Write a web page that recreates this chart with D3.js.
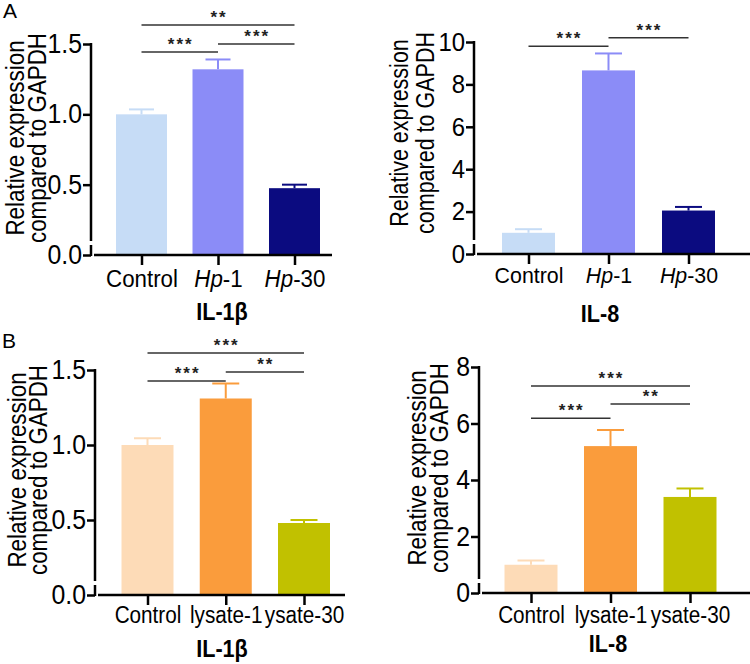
<!DOCTYPE html>
<html>
<head>
<meta charset="utf-8">
<script src="https://cdn.jsdelivr.net/npm/d3@7"></script>
<style>
  body { margin: 0; background: #fff; }
  svg { display: block; font-family: "Liberation Sans", Arial, sans-serif; }
</style>
</head>
<body>
<svg id="chart" width="750" height="664"></svg>
<script>
// categories
var groupsA = ['Control', 'Hp-1', 'Hp-30'];
var groupsB = ['Control', 'lysate-1', 'ysate-30'];
var colorsA = ['#c6dcf6', '#8b8cf7', '#0b0b80'];
var colorsB = ['#fddbb7', '#fa9c3c', '#c1c100'];

// means and SD
var il1bA = [1.0, 1.32, 0.475];
var il1bAErr = [0.035, 0.07, 0.025];
var il8A = [1.0, 8.66, 2.05];
var il8AErr = [0.17, 0.8, 0.17];
var il1bB = [1.0, 1.31, 0.48];
var il1bBErr = [0.045, 0.1, 0.02];
var il8B = [1.0, 5.2, 3.4];
var il8BErr = [0.15, 0.57, 0.3];

// tick labels
var ticksIl1b = [0, 0.5, 1.0, 1.5];
var ticksIl8A = [0, 2, 4, 6, 8, 10];
var ticksIl8B = [0, 2, 4, 6, 8];

// significance: [from, to, height (data units), label]
var sigIl1bA = [[0, 2, 1.635, '**'], [0, 1, 1.443, '***'], [1, 2, 1.5, '***']];
var sigIl8A = [[0, 1, 9.8, '***'], [1, 2, 10.2, '***']];
var sigIl1bB = [[0, 2, 1.613, '***'], [0, 1, 1.427, '***'], [1, 2, 1.487, '**']];
var sigIl8B = [[0, 2, 7.33, '***'], [0, 1, 6.19, '***'], [1, 2, 6.69, '**']];

var svg = d3.select('#chart');

// squeeze text horizontally (the figure font is a bit narrow)
function condense(sel, k) {
  sel.each(function () {
    var w = this.getComputedTextLength();
    d3.select(this).attr('textLength', w * k).attr('lengthAdjust', 'spacingAndGlyphs');
  });
}

function panel(opt) {
  var g = svg.append('g');

  var y = d3.scaleLinear().domain([0, opt.max]).range([opt.y0, opt.yTop]);
  var x = d3.scalePoint().domain(opt.groups).range([opt.c0, opt.c1]);

  var rows = opt.values.map(function (v, i) {
    return { name: opt.groups[i], value: v, err: opt.errs[i], color: opt.colors[i] };
  });

  // bars
  g.selectAll('rect.bar')
    .data(rows)
    .join('rect')
    .attr('class', 'bar')
    .attr('x', function (d) { return x(d.name) - opt.barW / 2; })
    .attr('y', function (d) { return y(d.value); })
    .attr('width', opt.barW)
    .attr('height', function (d) { return y(0) - y(d.value); })
    .attr('fill', function (d) { return d.color; });

  // error bars (upper only)
  var eb = g.selectAll('g.err')
    .data(rows)
    .join('g')
    .attr('class', 'err')
    .attr('stroke', function (d) { return d.color; })
    .attr('stroke-width', 2);

  eb.append('line')
    .attr('x1', function (d) { return x(d.name); })
    .attr('x2', function (d) { return x(d.name); })
    .attr('y1', function (d) { return y(d.value); })
    .attr('y2', function (d) { return y(d.value + d.err); });

  eb.append('line')
    .attr('x1', function (d) { return x(d.name) - opt.capW / 2; })
    .attr('x2', function (d) { return x(d.name) + opt.capW / 2; })
    .attr('y1', function (d) { return y(d.value + d.err); })
    .attr('y2', function (d) { return y(d.value + d.err); });

  // y axis
  var ya = g.append('g')
    .attr('transform', 'translate(' + opt.ax + ',0)')
    .call(d3.axisLeft(y).tickValues(opt.ticks).tickFormat(opt.fmt).tickSize(8).tickPadding(1));
  ya.select('.domain').remove();
  ya.selectAll('.tick line').attr('stroke', '#000').attr('stroke-width', 2.5);
  ya.selectAll('.tick text')
    .attr('font-size', opt.tickFont)
    .attr('font-family', 'Liberation Sans, Arial, sans-serif')
    .attr('fill', '#000')
    .call(condense, 0.92);

  // broken y axis line near zero
  g.append('line')
    .attr('x1', opt.ax).attr('x2', opt.ax)
    .attr('y1', y(opt.max) - 1).attr('y2', opt.y0 - 14)
    .attr('stroke', '#000').attr('stroke-width', 2.5);
  g.append('line')
    .attr('x1', opt.ax).attr('x2', opt.ax)
    .attr('y1', opt.y0 - 10).attr('y2', opt.y0 + 1)
    .attr('stroke', '#000').attr('stroke-width', 2.5);

  // x axis
  var xa = g.append('g')
    .attr('transform', 'translate(0,' + opt.y0 + ')')
    .call(d3.axisBottom(x).tickSize(10));
  xa.select('.domain').remove();
  xa.selectAll('.tick line').attr('stroke', '#000').attr('stroke-width', 2.5);
  xa.selectAll('.tick text')
    .attr('y', opt.labelY)
    .attr('dy', 0)
    .attr('font-size', opt.catFont)
    .attr('font-family', 'Liberation Sans, Arial, sans-serif')
    .attr('fill', '#000')
    .each(function (d) {
      if (d.indexOf('Hp') === 0) {
        var t = d3.select(this).text('');
        t.append('tspan').attr('font-style', 'italic').text('Hp');
        t.append('tspan').text(d.slice(2));
      }
    })
    .call(condense, opt.catK);

  g.append('line')
    .attr('x1', opt.ax + 3).attr('x2', opt.xEnd)
    .attr('y1', opt.y0).attr('y2', opt.y0)
    .attr('stroke', '#000').attr('stroke-width', 2.5);

  // gene title
  g.append('text')
    .attr('x', opt.titleX)
    .attr('y', opt.y0 + opt.titleY)
    .attr('text-anchor', 'middle')
    .attr('font-size', 24)
    .attr('font-weight', 'bold')
    .text(opt.title)
    .call(condense, 0.9);

  // y label, two lines
  [['Relative expression', opt.yl1], [opt.yl2Text, opt.yl2]].forEach(function (l) {
    g.append('text')
      .attr('transform', 'translate(' + l[1] + ',' + opt.ylY + ') rotate(-90)')
      .attr('text-anchor', 'middle')
      .attr('font-size', opt.ylFont)
      .text(l[0])
      .call(condense, 0.86);
  });

  // significance brackets
  var sg = g.selectAll('g.sig')
    .data(opt.sig)
    .join('g')
    .attr('class', 'sig');

  sg.append('line')
    .attr('x1', function (d) { return x(opt.groups[d[0]]); })
    .attr('x2', function (d) { return x(opt.groups[d[1]]); })
    .attr('y1', function (d) { return y(d[2]); })
    .attr('y2', function (d) { return y(d[2]); })
    .attr('stroke', '#333')
    .attr('stroke-width', 1.5);

  sg.append('text')
    .attr('x', function (d) { return (x(opt.groups[d[0]]) + x(opt.groups[d[1]])) / 2 + 1; })
    .attr('y', function (d) { return y(d[2]) - 2; })
    .attr('text-anchor', 'middle')
    .attr('font-size', 17)
    .attr('font-weight', 'bold')
    .attr('letter-spacing', 2)
    .attr('fill', '#222')
    .text(function (d) { return d[3]; });
}

panel({
  groups: groupsA, values: il1bA, errs: il1bAErr, colors: colorsA,
  max: 1.5, ticks: ticksIl1b, fmt: d3.format('.1f'), sig: sigIl1bA,
  ax: 91, y0: 255, yTop: 44, c0: 141.5, c1: 294.5, barW: 51, capW: 25, xEnd: 332,
  tickFont: 27, catFont: 23, catK: 0.97, labelY: 32, title: 'IL-1β', titleX: 222, titleY: 65,
  yl1: 24, yl2: 46, ylY: 138, ylFont: 26, yl2Text: 'compared to GAPDH'
});

panel({
  groups: groupsA, values: il8A, errs: il8AErr, colors: colorsA,
  max: 10, ticks: ticksIl8A, fmt: d3.format('d'), sig: sigIl8A,
  ax: 474, y0: 254, yTop: 42, c0: 528.5, c1: 688.5, barW: 53, capW: 27, xEnd: 750,
  tickFont: 26, catFont: 22, catK: 0.97, labelY: 29, title: 'IL-8', titleX: 600, titleY: 68,
  yl1: 408, yl2: 434, ylY: 133, ylFont: 25, yl2Text: 'compared to GAPDH'
});

panel({
  groups: groupsB, values: il1bB, errs: il1bBErr, colors: colorsB,
  max: 1.5, ticks: ticksIl1b, fmt: d3.format('.1f'), sig: sigIl1bB,
  ax: 95, y0: 595, yTop: 370, c0: 147.5, c1: 304, barW: 52, capW: 27, xEnd: 345,
  tickFont: 27, catFont: 23, catK: 0.9, labelY: 28, title: 'IL-1β', titleX: 222, titleY: 62,
  yl1: 26, yl2: 47, ylY: 470, ylFont: 26, yl2Text: 'compared to GAPDH'
});

panel({
  groups: groupsB, values: il8B, errs: il8BErr, colors: colorsB,
  max: 8, ticks: ticksIl8B, fmt: d3.format('d'), sig: sigIl8B,
  ax: 479, y0: 593, yTop: 367, c0: 531, c1: 690, barW: 53, capW: 27, xEnd: 750,
  tickFont: 27, catFont: 23, catK: 0.9, labelY: 30, title: 'IL-8', titleX: 608, titleY: 59,
  yl1: 426, yl2: 448, ylY: 468, ylFont: 26, yl2Text: 'compared to GAPDH'
});

// panel letters
svg.append('text').attr('x', 3).attr('y', 18).attr('font-size', 21).text('A');
svg.append('text').attr('x', 2).attr('y', 348).attr('font-size', 21).text('B');
</script>
</body>
</html>
